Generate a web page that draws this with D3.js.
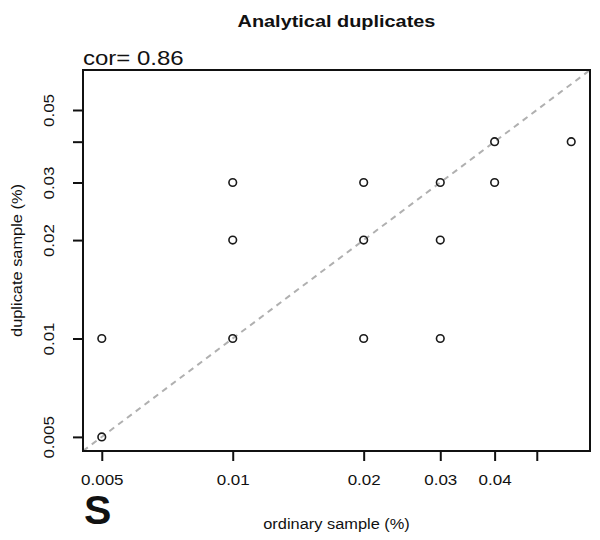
<!DOCTYPE html>
<html>
<head>
<meta charset="utf-8">
<script src="https://cdn.jsdelivr.net/npm/d3@7"></script>
<style>
  body { margin: 0; background: #fff; }
  text { font-family: "Liberation Sans", Arial, Helvetica, sans-serif; fill: #111; }
</style>
</head>
<body>
<svg id="chart" width="600" height="540"></svg>
<script>
// ---- data ----
const ordinary  = [0.005, 0.005, 0.01, 0.01, 0.01, 0.02, 0.02, 0.02, 0.03, 0.03, 0.03, 0.04, 0.04, 0.06];
const duplicate = [0.01, 0.005, 0.03, 0.02, 0.01, 0.03, 0.02, 0.01, 0.03, 0.02, 0.01, 0.04, 0.03, 0.04];
const xTickValues = [0.005, 0.01, 0.02, 0.03, 0.04, 0.05];
const xTickLabels = ["0.005", "0.01", "0.02", "0.03", "0.04", ""];
const yTickValues = [0.005, 0.01, 0.02, 0.03, 0.04, 0.05];
const yTickLabels = ["0.005", "0.01", "0.02", "0.03", "", "0.05"];
const limits = [0.005, 0.06];
const titleText = "Analytical duplicates";
const corText = "cor= 0.86";
const xLabel = "ordinary sample (%)";
const yLabel = "duplicate sample (%)";
const panelLabel = "S";

// ---- layout ----
const svg = d3.select("#chart");
const L = 83, R = 590, T = 70, B = 451;
const WIDEN = 1.17; // glyphs in the reference are wider than Liberation Sans
function widen(sel, f) {
  sel.each(function () {
    const w = this.getComputedTextLength();
    if (w > 0) {
      this.setAttribute("textLength", w * f);
      this.setAttribute("lengthAdjust", "spacingAndGlyphs");
    }
  });
  return sel;
}

// R-style 4% extension of log range
const span = Math.log10(limits[1] / limits[0]);
const ext = Math.pow(10, 0.04 * span);
const dom = [limits[0] / ext, limits[1] * ext];

const x = d3.scaleLog().domain(dom).range([L, R]);
const y = d3.scaleLog().domain(dom).range([B, T]);

// clip
svg.append("defs").append("clipPath").attr("id", "clip")
  .append("rect").attr("x", L).attr("y", T).attr("width", R - L).attr("height", B - T);

// identity line
svg.append("line")
  .attr("clip-path", "url(#clip)")
  .attr("x1", x(dom[0])).attr("y1", y(dom[0]))
  .attr("x2", x(dom[1])).attr("y2", y(dom[1]))
  .attr("stroke", "#b0b0b0").attr("stroke-width", 2)
  .attr("stroke-dasharray", "6,5");

// points
svg.append("g").selectAll("circle")
  .data(ordinary.map((v, i) => [v, duplicate[i]]))
  .join("circle")
  .attr("cx", d => x(d[0])).attr("cy", d => y(d[1]))
  .attr("r", 3.8)
  .attr("fill", "none").attr("stroke", "#1a1a1a").attr("stroke-width", 1.6);

// box
svg.append("rect").attr("x", L).attr("y", T).attr("width", R - L).attr("height", B - T)
  .attr("fill", "none").attr("stroke", "#111").attr("stroke-width", 2);

// x axis
const gx = svg.append("g").attr("transform", `translate(0,${B})`)
  .call(d3.axisBottom(x).tickValues(xTickValues)
    .tickFormat((d, i) => xTickLabels[i]).tickSize(10).tickSizeOuter(0).tickPadding(14));
gx.select(".domain").attr("d", `M${x(xTickValues[0])},0H${x(xTickValues[xTickValues.length-1])}`)
  .attr("stroke", "#111").attr("stroke-width", 2);
gx.selectAll(".tick line").attr("stroke", "#111").attr("stroke-width", 2);
widen(gx.selectAll(".tick text").attr("font-size", 14.5).attr("fill", "#111")
  .attr("font-family", "Liberation Sans, Arial, sans-serif"), WIDEN);

// y axis
const gy = svg.append("g").attr("transform", `translate(${L},0)`)
  .call(d3.axisLeft(y).tickValues(yTickValues)
    .tickFormat((d, i) => yTickLabels[i]).tickSize(10).tickSizeOuter(0));
gy.select(".domain").attr("d", `M0,${y(yTickValues[0])}V${y(yTickValues[yTickValues.length-1])}`)
  .attr("stroke", "#111").attr("stroke-width", 2);
gy.selectAll(".tick line").attr("stroke", "#111").attr("stroke-width", 2);
widen(gy.selectAll(".tick text")
  .attr("font-size", 14.5).attr("fill", "#111")
  .attr("font-family", "Liberation Sans, Arial, sans-serif")
  .attr("x", null).attr("dy", null)
  .attr("text-anchor", "middle")
  .attr("transform", `translate(${53.5 - L},0) rotate(-90)`), WIDEN);

// title
widen(svg.append("text").attr("x", (L + R) / 2).attr("y", 27)
  .attr("text-anchor", "middle").attr("font-weight", "bold").attr("font-size", 17)
  .text(titleText), WIDEN);

// cor
widen(svg.append("text").attr("x", L).attr("y", 65)
  .attr("font-size", 20.5).text(corText), WIDEN);

// axis labels
widen(svg.append("text").attr("x", (L + R) / 2).attr("y", 529)
  .attr("text-anchor", "middle").attr("font-size", 14).text(xLabel), WIDEN);
widen(svg.append("text")
  .attr("transform", `translate(22,${(T + B) / 2}) rotate(-90)`)
  .attr("text-anchor", "middle").attr("font-size", 14).text(yLabel), WIDEN);

// panel label
svg.append("text").attr("x", 84).attr("y", 524)
  .attr("font-weight", "bold").attr("font-size", 41).text(panelLabel);
</script>
</body>
</html>
